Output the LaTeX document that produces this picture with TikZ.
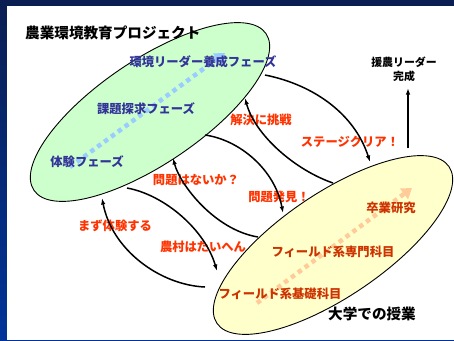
\documentclass[tikz,border=0pt]{standalone}
\usepackage{fontspec}
\newfontfamily\jp{Noto Sans CJK JP}
\usetikzlibrary{shapes.geometric,arrows.meta}
\definecolor{navytop}{HTML}{0B1E52}
\definecolor{barblue}{HTML}{003399}
\definecolor{phaseblue}{HTML}{333399}
\definecolor{redlab}{HTML}{FF3300}
\definecolor{darkred}{HTML}{CC3300}
\definecolor{greenfill}{HTML}{CCFFCC}
\definecolor{yellowfill}{HTML}{FFFFCC}
\definecolor{dotblue}{HTML}{99CCFF}
\definecolor{dotpeach}{HTML}{FFCC99}
\tikzset{
  phasebox/.style={ellipse, draw=black, line width=0.9pt, minimum width=280pt, minimum height=104pt, inner sep=0pt, rotate=34},
  phasetxt/.style={font=\jp\bfseries\fontsize{12.3}{14}\selectfont, text=phaseblue, inner sep=0pt},
  redtxt/.style={font=\jp\bfseries\fontsize{12.3}{14}\selectfont, text=redlab, inner sep=0pt},
  darktxt/.style={font=\jp\bfseries\fontsize{12.3}{14}\selectfont, text=darkred, inner sep=0pt},
  bigtxt/.style={font=\jp\bfseries\fontsize{14.6}{17}\selectfont, text=black, inner sep=0pt},
  flow/.style={line width=1.5pt, -{Latex[length=6.5pt,width=4.5pt]}},
  dotarrow/.style={line width=4.5pt, dash pattern=on 4.5pt off 4pt, -{Triangle[length=10pt,width=13pt]}}
}
\begin{document}
\begin{tikzpicture}[x=1pt,y=-1pt]
\useasboundingbox (0,0) rectangle (454,340);
\shade[top color=navytop, bottom color=barblue] (0,0) rectangle (454,340);
\fill[white] (7,6) rectangle (454,340);
% ellipses
\node[phasebox, fill=greenfill] (green) at (150,112) {};
\node[phasebox, fill=yellowfill] (yellow) at (333,245) {};
% dotted arrows
\coordinate (gs) at (70,167);
\coordinate (ge) at (225,53);
\coordinate (ys) at (257,303);
\coordinate (ye) at (412,188);
\draw[dotarrow, dotblue] (gs) -- (ge);
\draw[dotarrow, dotpeach] (ys) -- (ye);
% texts
\node[bigtxt, anchor=west] (title) at (25,33) {農業環境教育プロジェクト};
\node[phasetxt] (p3) at (203,62) {環境リーダー養成フェーズ};
\node[phasetxt] (p2) at (146,109) {課題探求フェーズ};
\node[phasetxt] (p1) at (87,162) {体験フェーズ};
\node[redtxt] (l1) at (261,120) {解決に挑戦};
\node[redtxt] (l2) at (350,142) {ステージクリア！};
\node[redtxt] (l3) at (196,180) {問題はないか？};
\node[redtxt] (l4) at (279,197) {問題発見！};
\node[redtxt] (l5) at (115,226) {まず体験する};
\node[redtxt] (l6) at (203,247) {農村はたいへん};
\node[darktxt] (u3) at (391,208) {卒業研究};
\node[darktxt] (u2) at (333,252) {フィールド系専門科目};
\node[darktxt] (u1) at (280,294) {フィールド系基礎科目};
\node[bigtxt] (univ) at (372,314) {大学での授業};
\node[font=\jp\bfseries\fontsize{10.9}{14}\selectfont, align=center, inner sep=0pt] (goal) at (404,69) {援農リーダー\\完成};
% curve endpoints
\coordinate (a1) at (265,75);  \coordinate (b1) at (370,162);
\coordinate (a2) at (333,183); \coordinate (b2) at (245,98);
\coordinate (a3) at (205,135); \coordinate (b3) at (283,213);
\coordinate (a4) at (258,237); \coordinate (b4) at (173,158);
\coordinate (a5) at (205,287); \coordinate (b5) at (102,198);
\coordinate (a6) at (127,188); \coordinate (b6) at (217,271);
\coordinate (a7) at (408,148); \coordinate (b7) at (408,88);
\draw[flow] (a1) .. controls (315,85) and (355,115) .. (b1);
\draw[flow] (a2) .. controls (295,170) and (255,135) .. (b2);
\draw[flow] (a3) .. controls (240,140) and (275,170) .. (b3);
\draw[flow] (a4) .. controls (215,230) and (180,185) .. (b4);
\draw[flow] (a5) .. controls (160,285) and (112,250) .. (b5);
\draw[flow] (a6) .. controls (165,195) and (205,230) .. (b6);
\draw[flow] (a7) -- (b7);
\end{tikzpicture}
\end{document}
